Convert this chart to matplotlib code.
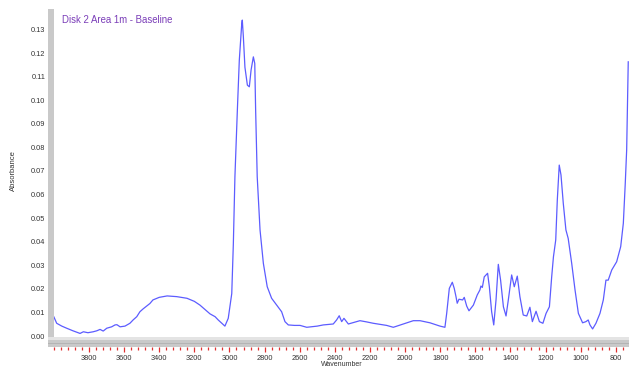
import matplotlib
matplotlib.use("Agg")
import matplotlib.pyplot as plt
from matplotlib.patches import Rectangle
from matplotlib.ticker import MultipleLocator

# spectrum (wavenumber, absorbance)
wavenumber = [4000, 3984, 3955, 3927, 3891, 3851, 3832, 3806, 3776, 3756,
              3737, 3719, 3699, 3671, 3652, 3641, 3623, 3595, 3567, 3549,
              3528, 3510, 3492, 3453, 3436, 3400, 3355, 3300, 3242, 3200,
              3168, 3111, 3082, 3064, 3026, 3007, 2987, 2978, 2969, 2955,
              2944, 2930, 2927, 2921, 2912, 2898, 2887, 2877, 2864, 2856,
              2851, 2842, 2826, 2807, 2785, 2760, 2731, 2703, 2684, 2665,
              2630, 2598, 2560, 2500, 2466, 2409, 2390, 2375, 2361, 2348,
              2323, 2290, 2257, 2220, 2181, 2105, 2067, 2010, 1953, 1915,
              1858, 1801, 1773, 1763, 1748, 1731, 1720, 1710, 1703, 1693,
              1672, 1663, 1649, 1636, 1611, 1589, 1574, 1568, 1560, 1549,
              1530, 1520, 1507, 1495, 1482, 1469, 1456, 1440, 1425, 1412,
              1393, 1378, 1361, 1346, 1327, 1307, 1289, 1275, 1254, 1235,
              1215, 1197, 1178, 1165, 1155, 1142, 1133, 1122, 1112, 1099,
              1084, 1071, 1051, 1032, 1013, 989, 970, 957, 947, 932,
              913, 890, 871, 856, 843, 823, 795, 772, 757, 746,
              738, 733, 729]
absorbance = [0.0081, 0.0054, 0.0042, 0.0033, 0.0022, 0.0011, 0.0018, 0.0014, 0.0018, 0.0022,
              0.0028, 0.0021, 0.0033, 0.0039, 0.0047, 0.0048, 0.0039, 0.0042, 0.0054, 0.0068,
              0.0082, 0.0103, 0.0115, 0.0138, 0.0153, 0.0164, 0.0170, 0.0167, 0.0160, 0.0147,
              0.0131, 0.0094, 0.0082, 0.0068, 0.0042, 0.0075, 0.0180, 0.0390, 0.0675, 0.0960,
              0.1170, 0.1326, 0.1340, 0.1270, 0.1140, 0.1064, 0.1057, 0.1128, 0.1184, 0.1156,
              0.0958, 0.0675, 0.0450, 0.0308, 0.0209, 0.0160, 0.0131, 0.0103, 0.0061, 0.0047,
              0.0045, 0.0045, 0.0037, 0.0042, 0.0047, 0.0051, 0.0068, 0.0086, 0.0061, 0.0075,
              0.0051, 0.0058, 0.0065, 0.0060, 0.0054, 0.0045, 0.0037, 0.0051, 0.0065, 0.0065,
              0.0056, 0.0042, 0.0037, 0.0096, 0.0202, 0.0228, 0.0202, 0.0167, 0.0139, 0.0156,
              0.0153, 0.0164, 0.0127, 0.0107, 0.0131, 0.0174, 0.0195, 0.0212, 0.0206, 0.0251,
              0.0266, 0.0209, 0.0103, 0.0047, 0.0153, 0.0304, 0.0237, 0.0124, 0.0085, 0.0153,
              0.0259, 0.0209, 0.0254, 0.0167, 0.0089, 0.0085, 0.0122, 0.0061, 0.0105, 0.0061,
              0.0054, 0.0096, 0.0124, 0.0251, 0.0336, 0.0407, 0.0577, 0.0725, 0.0683, 0.0563,
              0.0450, 0.0414, 0.0308, 0.0195, 0.0096, 0.0056, 0.0061, 0.0068, 0.0047, 0.0030,
              0.0054, 0.0096, 0.0153, 0.0237, 0.0237, 0.0280, 0.0315, 0.0379, 0.0478, 0.0647,
              0.0789, 0.1000, 0.1163]

y_ticks = [0.00, 0.01, 0.02, 0.03, 0.04, 0.05, 0.06, 0.07, 0.08, 0.09, 0.10, 0.11, 0.12, 0.13]
x_ticks = list(range(3800, 799, -200))

W, H = 629, 368
fig = plt.figure(figsize=(W / 100, H / 100), dpi=100, facecolor="white")
plt.rcParams["font.family"] = ["Liberation Sans", "DejaVu Sans"]

# axes box in pixels: left 48, right 629, top 9, bottom 347
ax = fig.add_axes([48 / W, 1 - 347 / H, 581 / W, 338 / H])
ax.set_facecolor("white")
ax.set_xlim(4033.5, 724.7)
ax.set_ylim(-0.00466, 0.1387)

ax.plot(wavenumber, absorbance, color="#5c5cff", lw=0.9, zorder=3)

# gray frame bars
ax.add_patch(Rectangle((0, 0), 6 / 581, 1, transform=ax.transAxes,
                       facecolor="#c9c9c9", edgecolor="none", zorder=4, clip_on=False))
ax.add_patch(Rectangle((0, 0), 1, 10 / 338, transform=ax.transAxes,
                       facecolor="#c9c9c9", edgecolor="none", zorder=4, clip_on=False))
ax.add_patch(Rectangle((0, 7.5 / 338), 1, 2.5 / 338, transform=ax.transAxes,
                       facecolor="#e4e4e4", edgecolor="none", zorder=4, clip_on=False))
ax.add_patch(Rectangle((0, 3 / 338), 1, 1 / 338, transform=ax.transAxes,
                       facecolor="#b4b4b4", edgecolor="none", zorder=4, clip_on=False))

for s in ax.spines.values():
    s.set_visible(False)

ax.set_yticks(y_ticks)
ax.set_yticklabels([f"{v:.2f}" for v in y_ticks])
ax.tick_params(axis="y", direction="in", length=3, width=0.9, color="#e03030",
               labelsize=5.3, labelcolor="#333333", pad=2)
for t in ax.yaxis.get_major_ticks():
    t.tick1line.set_zorder(5)

ax.set_xticks(x_ticks)
ax.xaxis.set_minor_locator(MultipleLocator(40))
ax.tick_params(axis="x", which="major", direction="out", length=3.5, width=0.9,
               color="#e03030", labelsize=5.3, labelcolor="#333333", pad=2.5)
ax.tick_params(axis="x", which="minor", direction="out", length=1.8, width=0.9,
               color="#e03030")

fig.text(62 / W, 1 - 20 / H, "Disk 2 Area 1m - Baseline", color="#7a3db8",
         fontsize=6.9, ha="left", va="center")
fig.text(13 / W, 1 - 171 / H, "Absorbance", rotation=90, color="#333333",
         fontsize=5.5, ha="center", va="center")
fig.text(342 / W, 1 - 364.5 / H, "Wavenumber", color="#333333",
         fontsize=5, ha="center", va="center")

fig.savefig("out.png", dpi=100, facecolor="white")
